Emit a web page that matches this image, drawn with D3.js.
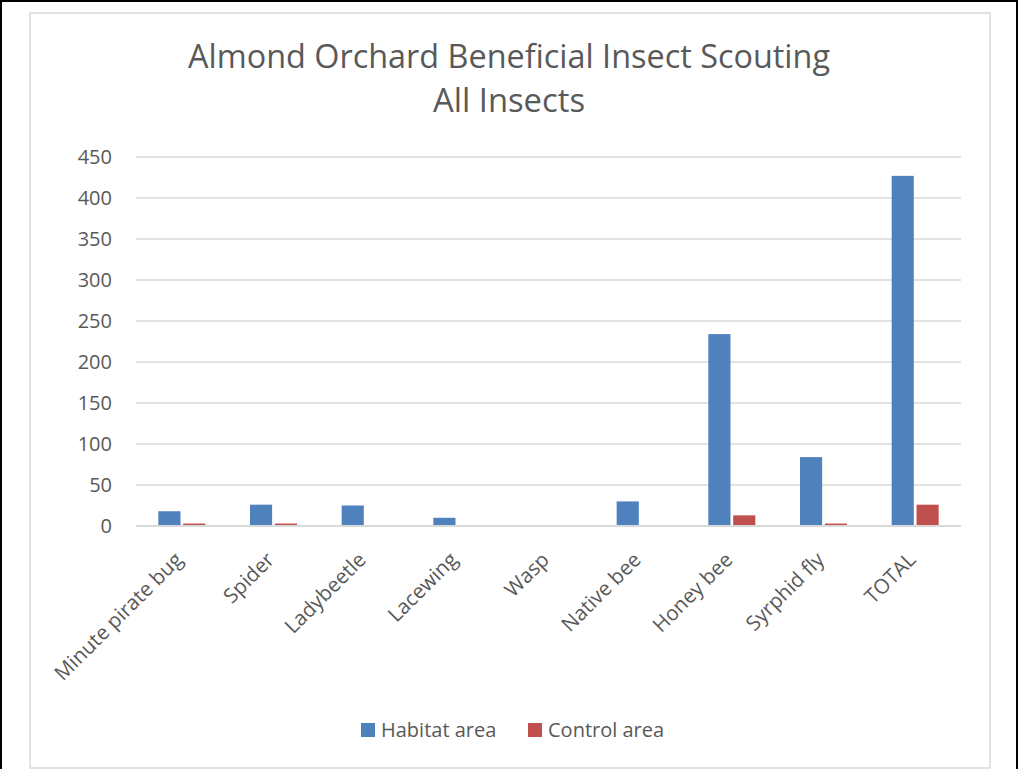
<!DOCTYPE html>
<html>
<head>
<meta charset="utf-8">
<script src="https://cdn.jsdelivr.net/npm/d3@7"></script>
<style>
  body { margin: 0; background: #fff; }
  svg { display: block; font-family: "Open Sans", "Noto Sans", sans-serif; }
</style>
</head>
<body>
<svg id="chart"></svg>
<script>
var width = 1018,
    height = 769;

var categories = ["Minute pirate bug", "Spider", "Ladybeetle", "Lacewing", "Wasp",
                  "Native bee", "Honey bee", "Syrphid fly", "TOTAL"];
var habitat = [18, 26, 25, 10, 0, 30, 234, 84, 427];
var control = [3, 3, 0, 0, 0, 0, 13, 3, 26];
var seriesNames = ["Habitat area", "Control area"];
var seriesColors = ["#4F81BD", "#C0504D"];
var yTicks = [0, 50, 100, 150, 200, 250, 300, 350, 400, 450];

var plotLeft = 136, plotRight = 961, plotTop = 157, plotBottom = 526;

var svg = d3.select("#chart").attr("width", width).attr("height", height);

// outer frames
svg.append("rect")
  .attr("x", 1).attr("y", 1).attr("width", 1016).attr("height", 780)
  .attr("fill", "#fff").attr("stroke", "#000").attr("stroke-width", 2);
svg.append("rect")
  .attr("x", 30).attr("y", 13).attr("width", 960).attr("height", 755)
  .attr("fill", "#fff").attr("stroke", "#D9D9D9").attr("stroke-width", 1.5);

// title
var title = svg.append("text")
  .attr("text-anchor", "middle")
  .attr("fill", "#595959")
  .attr("font-size", 33);
title.append("tspan").attr("x", 509).attr("y", 68)
  .attr("textLength", 642).attr("lengthAdjust", "spacingAndGlyphs")
  .text("Almond Orchard Beneficial Insect Scouting");
title.append("tspan").attr("x", 509).attr("y", 112)
  .attr("textLength", 152).attr("lengthAdjust", "spacingAndGlyphs")
  .text("All Insects");

var x = d3.scaleBand().domain(categories).range([plotLeft, plotRight]);
var x1 = d3.scaleBand().domain(seriesNames).range([0, 47]).paddingInner(0.11);
var y = d3.scaleLinear().domain([0, 450]).range([plotBottom, plotTop]);

// gridlines
svg.append("g").selectAll("line")
  .data(yTicks.slice(1))
  .enter().append("line")
  .attr("x1", plotLeft).attr("x2", plotRight)
  .attr("y1", function(d) { return y(d); })
  .attr("y2", function(d) { return y(d); })
  .attr("stroke", "#D9D9D9").attr("stroke-width", 1.5);

// y axis labels
var yAxis = svg.append("g")
  .attr("transform", "translate(" + plotLeft + ",0)")
  .call(d3.axisLeft(y).tickValues(yTicks).tickSize(0).tickPadding(24));
yAxis.select(".domain").remove();
yAxis.selectAll("text")
  .attr("fill", "#595959")
  .attr("font-size", 20)
  .attr("font-family", "Open Sans, sans-serif");

// bars
var rows = categories.map(function(c, i) {
  return { cat: c, values: [habitat[i], control[i]] };
});
var group = svg.append("g").selectAll("g")
  .data(rows)
  .enter().append("g")
  .attr("transform", function(d) {
    return "translate(" + (x(d.cat) + x.bandwidth() / 2 - 23.5) + ",0)";
  });
group.selectAll("rect")
  .data(function(d) {
    return d.values.map(function(v, j) { return { s: seriesNames[j], v: v, j: j }; });
  })
  .enter().append("rect")
  .attr("x", function(d) { return x1(d.s); })
  .attr("width", x1.bandwidth())
  .attr("y", function(d) { return y(d.v); })
  .attr("height", function(d) { return y(0) - y(d.v); })
  .attr("fill", function(d) { return seriesColors[d.j]; });

// baseline
svg.append("line")
  .attr("x1", plotLeft).attr("x2", plotRight)
  .attr("y1", y(0)).attr("y2", y(0))
  .attr("stroke", "#D9D9D9").attr("stroke-width", 2);

// x labels
svg.append("g").selectAll("text")
  .data(categories)
  .enter().append("text")
  .attr("transform", function(d) {
    return "translate(" + (x(d) + x.bandwidth() / 2 + 2) + ",561) rotate(-45)";
  })
  .attr("text-anchor", "end")
  .attr("fill", "#595959")
  .attr("font-size", 20.5)
  .text(function(d) { return d; });

// legend
var legend = svg.append("g").selectAll("g")
  .data(seriesNames)
  .enter().append("g")
  .attr("transform", function(d, i) { return "translate(" + [361, 528][i] + ",723)"; });
legend.append("rect")
  .attr("width", 14).attr("height", 14)
  .attr("fill", function(d, i) { return seriesColors[i]; });
legend.append("text")
  .attr("x", 20).attr("y", 14)
  .attr("fill", "#595959")
  .attr("font-size", 20)
  .text(function(d) { return d; });
</script>
</body>
</html>
